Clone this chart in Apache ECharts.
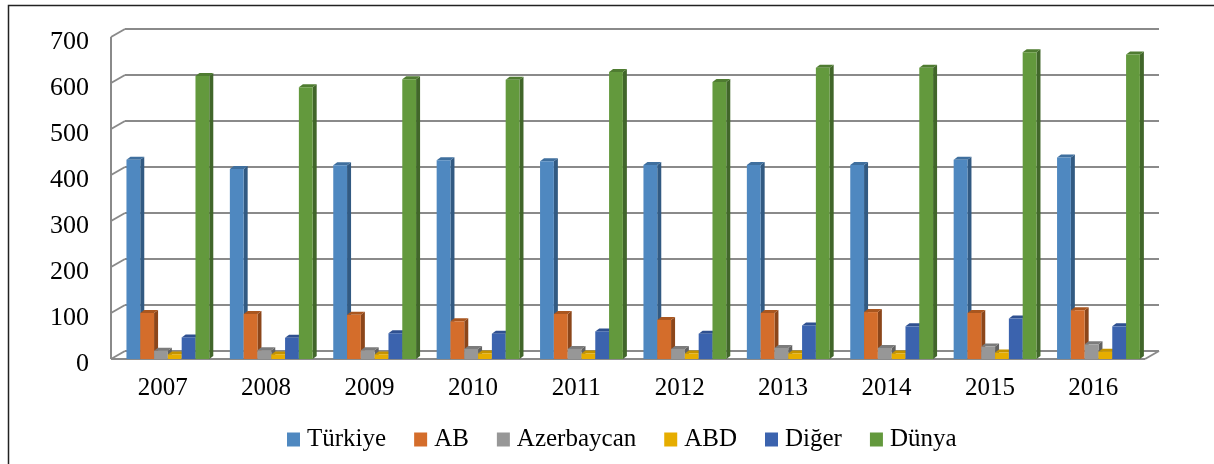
<!DOCTYPE html>
<html>
<head>
<meta charset="utf-8">
<script src="https://cdn.jsdelivr.net/npm/echarts@6/dist/echarts.min.js"></script>
<style>
  html, body { margin: 0; padding: 0; background: #fff; }
  #chart { width: 1214px; height: 464px; }
</style>
</head>
<body>
<div id="chart"></div>
<script>
// veriler
const years = ['2007', '2008', '2009', '2010', '2011', '2012', '2013', '2014', '2015', '2016'];
const turkiye = [433, 413, 421, 432, 430, 422, 422, 422, 433, 438];
const ab = [100, 98, 96, 82, 98, 85, 100, 102, 100, 106];
const azerbaycan = [18, 19, 19, 22, 22, 22, 24, 24, 27, 32];
const abd = [10, 10, 10, 12, 12, 12, 12, 12, 14, 16];
const diger = [47, 46, 56, 55, 60, 55, 73, 71, 88, 71];
const dunya = [615, 591, 608, 607, 624, 602, 633, 633, 667, 662];
const yTicks = [0, 100, 200, 300, 400, 500, 600, 700];

// renkler: ön yüz, yan yüz, üst yüz
const seriesDefs = [
  { name: 'Türkiye', data: turkiye, front: '#4f88c0', side: '#325a82', top: '#3f6f9e' },
  { name: 'AB', data: ab, front: '#d46d2b', side: '#8c461a', top: '#a9561f' },
  { name: 'Azerbaycan', data: azerbaycan, front: '#979797', side: '#626262', top: '#7b7b7b' },
  { name: 'ABD', data: abd, front: '#e6ad00', side: '#a37a00', top: '#c49300' },
  { name: 'Diğer', data: diger, front: '#3b63ae', side: '#263f72', top: '#2f5090' },
  { name: 'Dünya', data: dunya, front: '#63993d', side: '#41662a', top: '#4f7c31' }
];

const DEPTH_X = 14, DEPTH_Y = -8;   // duvar derinliği
const BAR_DX = 4, BAR_DY = -3;      // çubuk derinliği
const gridColor = '#8a8a8a';
const serif = "'Liberation Serif', 'DejaVu Serif', serif";

const chart = echarts.init(document.getElementById('chart'));

function barRenderer(k) {
  return function (params, api) {
    const idx = api.value(0);
    const val = api.value(1);
    const base = api.coord([idx, 0]);
    const topP = api.coord([idx, val]);
    const band = api.size([1, 0])[0];
    const w = band * 0.1335;
    const x0 = base[0] - 3 * w + band * 0.05 + k * w;
    const x1 = x0 + w;
    const yb = base[1], yt = topP[1];
    const def = seriesDefs[k];
    return {
      type: 'group',
      children: [
        { type: 'polygon', shape: { points: [[x1, yb], [x1 + BAR_DX, yb + BAR_DY], [x1 + BAR_DX, yt + BAR_DY], [x1, yt]] },
          style: { fill: def.side } },
        { type: 'polygon', shape: { points: [[x0, yt], [x1, yt], [x1 + BAR_DX, yt + BAR_DY], [x0 + BAR_DX, yt + BAR_DY]] },
          style: { fill: def.top } },
        { type: 'rect', shape: { x: x0, y: yt, width: w, height: yb - yt },
          style: { fill: def.front } }
      ]
    };
  };
}

// arka duvar ve zemin çizgileri
function wallRenderer(params, api) {
  const cs = params.coordSys;
  const v = api.value(0);
  const y = api.coord([0, v])[1];
  const left = cs.x, right = cs.x + cs.width;
  const children = [
    { type: 'line', shape: { x1: left + DEPTH_X, y1: y + DEPTH_Y, x2: right + DEPTH_X, y2: y + DEPTH_Y },
      style: { stroke: gridColor, lineWidth: 2 } },
    { type: 'line', shape: { x1: left, y1: y, x2: left + DEPTH_X, y2: y + DEPTH_Y },
      style: { stroke: gridColor, lineWidth: 2 } }
  ];
  if (v === 0) {
    children.push(
      { type: 'line', shape: { x1: left, y1: y, x2: right, y2: y }, style: { stroke: gridColor, lineWidth: 2 } },
      { type: 'line', shape: { x1: right, y1: y, x2: right + DEPTH_X, y2: y + DEPTH_Y }, style: { stroke: gridColor, lineWidth: 2 } },
      { type: 'line', shape: { x1: left, y1: y, x2: left, y2: api.coord([0, 700])[1] }, style: { stroke: gridColor, lineWidth: 2 } }
    );
  }
  return { type: 'group', children: children };
}

const series = [{
  name: 'walls',
  type: 'custom',
  renderItem: wallRenderer,
  data: yTicks.map(v => [v]),
  encode: { y: 0 },
  silent: true,
  z: 1
}];
seriesDefs.forEach(function (d, k) {
  series.push({
    name: d.name,
    type: 'custom',
    renderItem: barRenderer(k),
    data: d.data.map((v, i) => [i, v]),
    encode: { x: 0, y: 1 },
    itemStyle: { color: d.front },
    z: 2
  });
});

const option = {
  animation: false,
  backgroundColor: '#fff',
  textStyle: { fontFamily: serif },
  graphic: [{
    type: 'rect',
    shape: { x: 8.5, y: 5.5, width: 1220, height: 480 },
    style: { fill: 'none', stroke: '#222', lineWidth: 1.5 },
    silent: true
  }],
  grid: { left: 111, right: 69, top: 37, bottom: 105 },
  legend: {
    data: seriesDefs.map(d => d.name),
    left: 282,
    top: 422,
    itemWidth: 13,
    itemHeight: 14,
    itemGap: 28,
    icon: 'rect',
    textStyle: { fontFamily: serif, fontSize: 25, color: '#000', padding: [0, 0, 0, 2] }
  },
  xAxis: {
    type: 'category',
    data: years,
    axisLine: { show: false },
    axisTick: { show: false },
    splitLine: { show: false },
    axisLabel: { fontFamily: serif, fontSize: 25, color: '#000', margin: 17 }
  },
  yAxis: {
    type: 'value',
    min: 0,
    max: 700,
    interval: 100,
    axisLine: { show: false },
    axisTick: { show: false },
    splitLine: { show: false },
    axisLabel: {
      margin: 22,
      formatter: '{a|{value}}',
      rich: { a: { fontFamily: serif, fontSize: 26, color: '#000', padding: [10, 0, 0, 0] } }
    }
  },
  series: series
};

chart.setOption(option);
</script>
</body>
</html>
